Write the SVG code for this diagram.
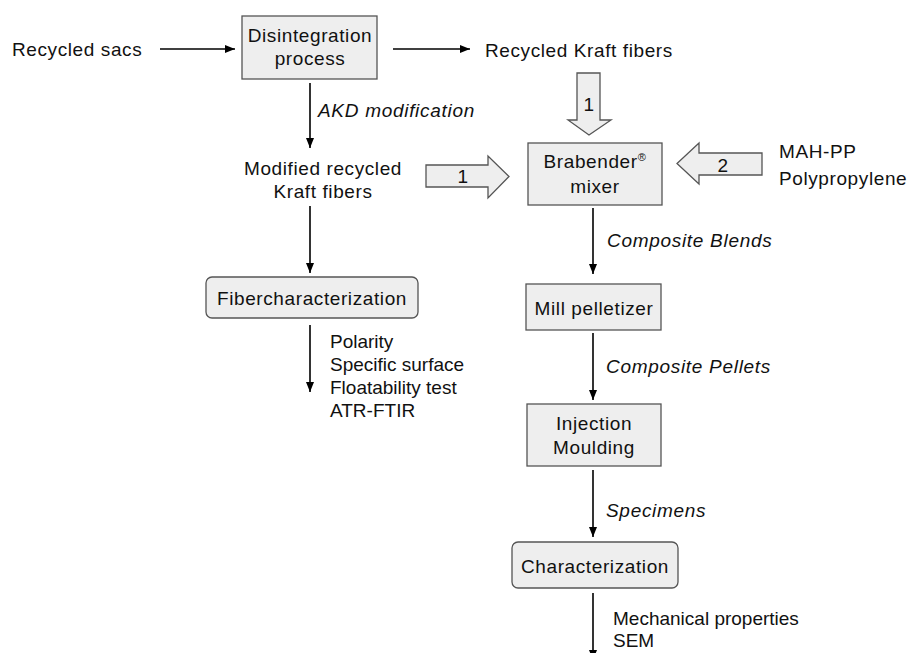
<svg xmlns="http://www.w3.org/2000/svg" width="911" height="653" viewBox="0 0 911 653">
<defs>
<marker id="ah" markerWidth="10" markerHeight="8" refX="10" refY="4" orient="auto" markerUnits="userSpaceOnUse">
<path d="M0,0 L10,4 L0,8 Z" fill="#000"/>
</marker>
<style>
.t{font-family:"Liberation Sans",Arial,sans-serif;font-size:19px;fill:#111;letter-spacing:0.6px}
.m{text-anchor:middle}
.i{font-style:italic;letter-spacing:0.7px}
.s{letter-spacing:0px}
.box{fill:#eeeeee;stroke:#555;stroke-width:1.3}
.ln{stroke:#000;stroke-width:1.6;fill:none;marker-end:url(#ah)}
.fat{fill:#eeeeee;stroke:#555;stroke-width:1.3}
</style>
</defs>
<rect width="911" height="653" fill="#fff"/>

<g id="connectors">
<line class="ln" x1="160" y1="49" x2="235" y2="49"/>
<line class="ln" x1="393" y1="49" x2="470" y2="49"/>
<line class="ln" x1="310" y1="83" x2="310" y2="148"/>
<line class="ln" x1="310" y1="206" x2="310" y2="273"/>
<line class="ln" x1="310" y1="325" x2="310" y2="392"/>
<line class="ln" x1="593" y1="208" x2="593" y2="274"/>
<line class="ln" x1="593" y1="333" x2="593" y2="400"/>
<line class="ln" x1="593" y1="470" x2="593" y2="537"/>
<line class="ln" x1="593" y1="593" x2="593" y2="660"/>
<path class="fat" d="M577,73 H600 V120 H611 L589,135 L568,120 H577 Z"/>
<text class="t m" x="589" y="111">1</text>
<path class="fat" d="M426,165 H488 V156 L509,176.5 L488,198 V187 H426 Z"/>
<text class="t m" x="463" y="183">1</text>
<path class="fat" d="M762,153 H699 V143 L677,163.5 L699,184 V175 H762 Z"/>
<text class="t m" x="723" y="172">2</text>
<text class="t i" x="318" y="117">AKD modification</text>
<text class="t i" x="607" y="247">Composite Blends</text>
<text class="t i" x="606" y="373">Composite Pellets</text>
<text class="t i" x="606" y="517">Specimens</text>
</g>

<g id="recycled-sacs"><text class="t" x="12" y="56">Recycled sacs</text></g>

<g id="disintegration">
<rect class="box" x="242" y="16" width="135" height="63"/>
<text class="t m" x="310" y="42">Disintegration</text>
<text class="t m" x="310" y="65">process</text>
</g>

<g id="recycled-kraft"><text class="t" x="485" y="57">Recycled Kraft fibers</text></g>

<g id="modified-kraft">
<text class="t m" x="323" y="175">Modified recycled</text>
<text class="t m" x="323" y="198">Kraft fibers</text>
</g>

<g id="brabender">
<rect class="box" x="528" y="143" width="134" height="62"/>
<text class="t m" x="595" y="168">Brabender<tspan font-size="11" dy="-7">®</tspan></text>
<text class="t m" x="595" y="193">mixer</text>
</g>

<g id="mah-pp">
<text class="t" x="779" y="158">MAH-PP</text>
<text class="t" x="779" y="185">Polypropylene</text>
</g>

<g id="fibercharacterization">
<rect class="box" x="206" y="277" width="212" height="41" rx="6"/>
<text class="t m" x="312" y="305">Fibercharacterization</text>
</g>

<g id="fiber-tests">
<text class="t s" x="330" y="348">Polarity</text>
<text class="t s" x="330" y="371">Specific surface</text>
<text class="t s" x="330" y="394">Floatability test</text>
<text class="t s" x="330" y="417">ATR-FTIR</text>
</g>

<g id="mill-pelletizer">
<rect class="box" x="526" y="284" width="135" height="46"/>
<text class="t m" x="594" y="315">Mill pelletizer</text>
</g>

<g id="injection-moulding">
<rect class="box" x="527" y="404" width="134" height="62"/>
<text class="t m" x="594" y="430">Injection</text>
<text class="t m" x="594" y="454">Moulding</text>
</g>

<g id="characterization">
<rect class="box" x="512" y="542" width="166" height="46" rx="6"/>
<text class="t m" x="595" y="573">Characterization</text>
</g>

<g id="char-tests">
<text class="t s" x="613" y="625">Mechanical properties</text>
<text class="t s" x="613" y="647">SEM</text>
</g>
</svg>
